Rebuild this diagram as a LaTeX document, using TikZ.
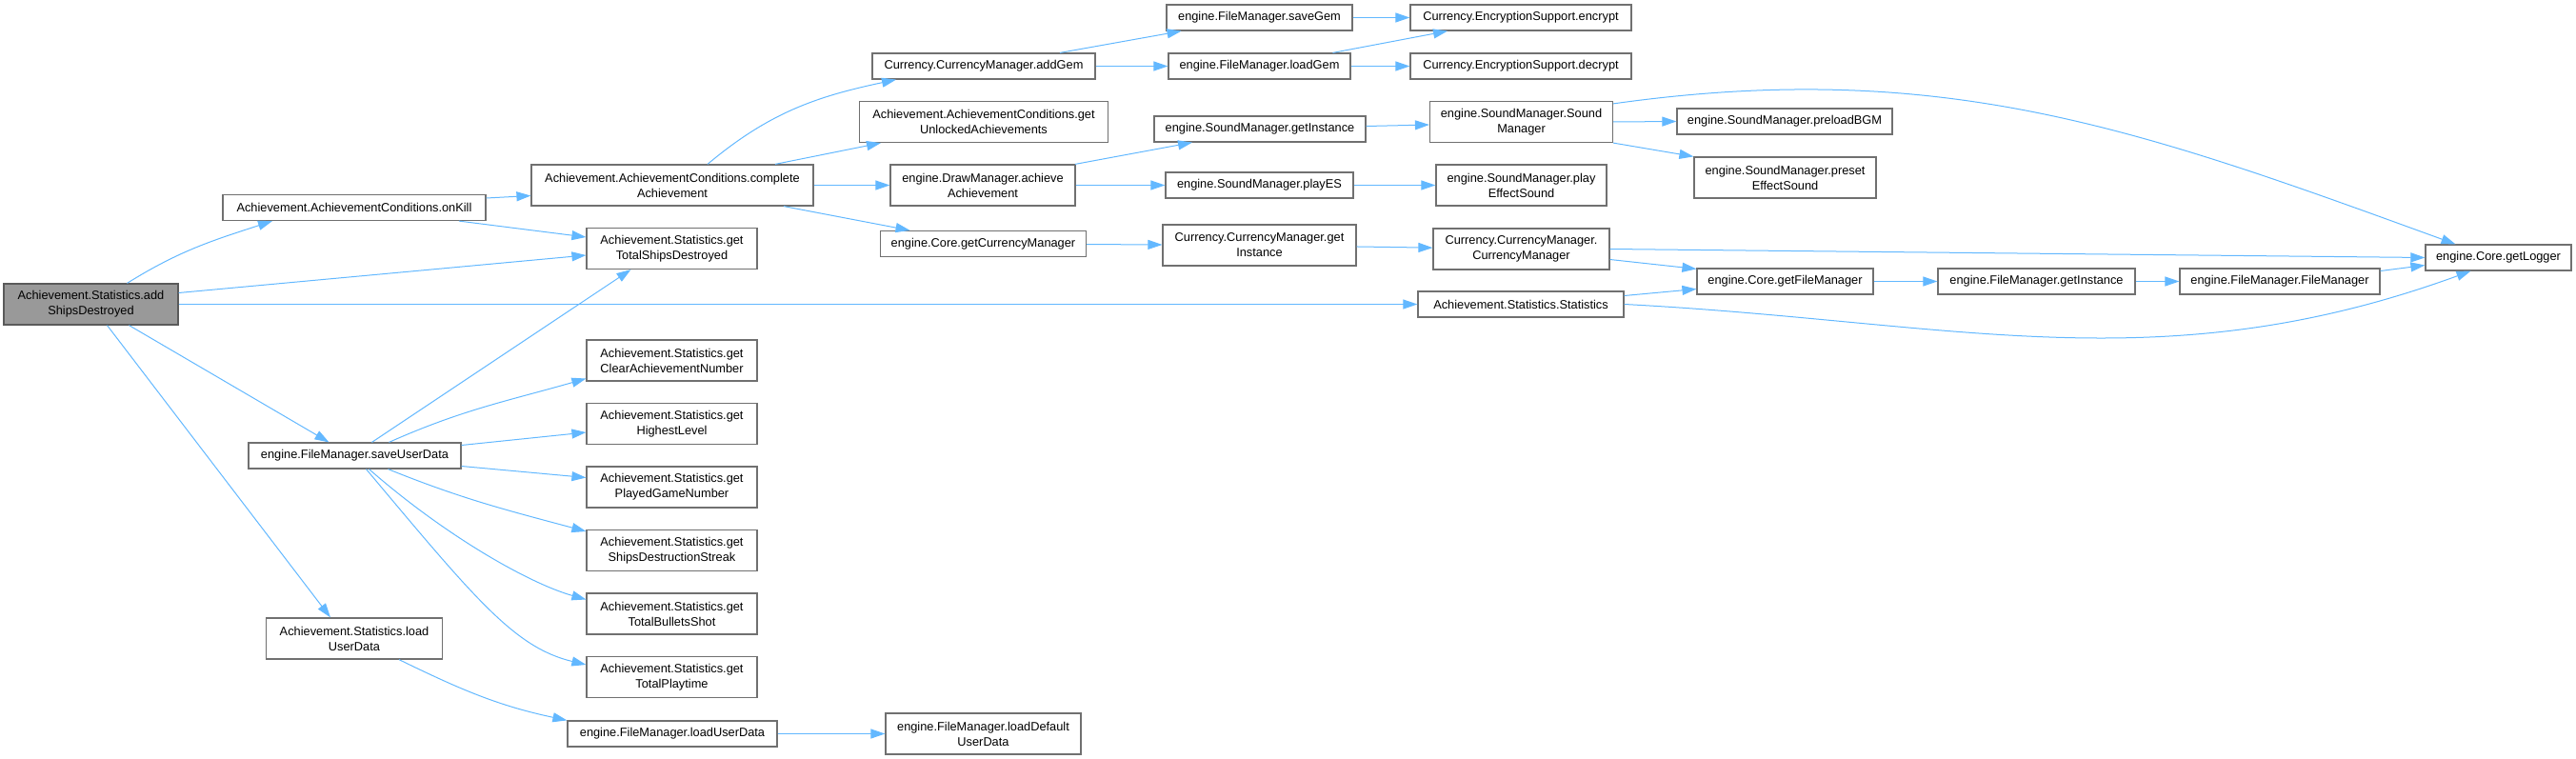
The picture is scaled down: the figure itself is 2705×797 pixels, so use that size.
\documentclass[tikz,border=0pt]{standalone}
\usepackage{fontspec}
\setmainfont{Liberation Sans}
\usetikzlibrary{arrows.meta}
\definecolor{callblue}{HTML}{63B8FF}
\definecolor{boxline}{HTML}{707070}
\definecolor{rootfill}{HTML}{999999}

\begin{document}
\begin{tikzpicture}[x=1pt,y=-1pt,
  every node/.style={font=\fontsize{12.8pt}{16pt}\selectfont},
  fn/.style={draw=boxline,line width=1.2pt,fill=white,align=center,
    inner xsep=2pt,inner ysep=0pt,minimum height=27pt,minimum width=#1},
  two/.style={minimum height=43pt},
  root/.style={fill=rootfill,draw=boxline!80!black},
  call/.style={draw=callblue,line width=1pt,-{Triangle[length=15pt,width=10pt]}}]
  \useasboundingbox (0,0) rectangle (2705,797);
  % first column
  \node[fn=183,two,root] (add) at (95.5,319.5){Achievement.Statistics.add\\ShipsDestroyed};
  % second column
  \node[fn=276] (onKill) at (372,218){Achievement.AchievementConditions.onKill};
  \node[fn=223] (saveUD) at (372.5,478.5){engine.FileManager.saveUserData};
  \node[fn=185,two] (loadSt) at (372,670.5){Achievement.Statistics.load\\UserData};
  % third column
  \node[fn=296,two] (complete) at (706,194.5){Achievement.AchievementConditions.complete\\Achievement};
  \node[fn=179,two] (totShips) at (705.5,261){Achievement.Statistics.get\\TotalShipsDestroyed};
  \foreach \n/\y/\t in {clrAch/378.5/ClearAchievementNumber, hiLvl/445/HighestLevel,
      played/511.5/PlayedGameNumber, streak/578/ShipsDestructionStreak,
      bullets/644.5/TotalBulletsShot, playtime/711/TotalPlaytime}{
    \node[fn=179,two] (\n) at (705.5,\y){Achievement.Statistics.get\\\t};
  }
  \node[fn=220] (loadFM) at (706,770.5){engine.FileManager.loadUserData};
  % fourth column
  \node[fn=234] (addGem) at (1033,69.5){Currency.CurrencyManager.addGem};
  \node[fn=261,two] (unlocked) at (1033,128){Achievement.AchievementConditions.get\\UnlockedAchievements};
  \node[fn=194,two] (achieve) at (1032,194.5){engine.DrawManager.achieve\\Achievement};
  \node[fn=216] (getCM) at (1032.5,256){engine.Core.getCurrencyManager};
  \node[fn=205,two] (loadDef) at (1032.5,770.5){engine.FileManager.loadDefault\\UserData};
  % fifth column
  \node[fn=195] (saveGem) at (1322.5,18.5){engine.FileManager.saveGem};
  \node[fn=191] (loadGem) at (1322.5,69.5){engine.FileManager.loadGem};
  \node[fn=222] (smInst) at (1323,135.5){engine.SoundManager.getInstance};
  \node[fn=197] (playES) at (1322.5,194.5){engine.SoundManager.playES};
  \node[fn=203,two] (cmInst) at (1322.5,257.5){Currency.CurrencyManager.get\\Instance};
  % sixth column
  \node[fn=232] (encrypt) at (1597,18.5){Currency.EncryptionSupport.encrypt};
  \node[fn=232] (decrypt) at (1597,69.5){Currency.EncryptionSupport.decrypt};
  \node[fn=192,two] (smCtor) at (1597.5,128){engine.SoundManager.Sound\\Manager};
  \node[fn=179,two] (playEff) at (1597.5,194.5){engine.SoundManager.play\\EffectSound};
  \node[fn=185,two] (cmCtor) at (1597.5,261.5){Currency.CurrencyManager.\\CurrencyManager};
  \node[fn=216] (statCtor) at (1597,319.5){Achievement.Statistics.Statistics};
  % seventh column and further right
  \node[fn=226] (preload) at (1874,127.5){engine.SoundManager.preloadBGM};
  \node[fn=191,two] (preset) at (1874.5,186.5){engine.SoundManager.preset\\EffectSound};
  \node[fn=185] (getFM) at (1874.5,295.5){engine.Core.getFileManager};
  \node[fn=207] (fmInst) at (2138.5,295.5){engine.FileManager.getInstance};
  \node[fn=210] (fmCtor) at (2394,295.5){engine.FileManager.FileManager};
  \node[fn=153] (logger) at (2623.5,270.5){engine.Core.getLogger};

  % calls out of addShipsDestroyed
  \draw[call] ([xshift=38pt]add.north) to[out=32,in=198] ([xshift=-86pt]onKill.south);
  \draw[call] ([yshift=12pt]add.east) -- ([yshift=-7pt]totShips.west);
  \draw[call] (add.east) -- (statCtor.west);
  \draw[call] ([xshift=40pt]add.south) -- ([xshift=-27pt]saveUD.north);
  \draw[call] ([xshift=17pt]add.south) -- ([xshift=-25pt]loadSt.north);
  % onKill and completeAchievement
  \draw[call] ([yshift=10pt]onKill.east) -- ([yshift=-11pt]complete.west);
  \draw[call] ([xshift=110pt]onKill.south) -- ([yshift=12pt]totShips.west);
  \draw[call] ([xshift=37pt]complete.north) to[out=40,in=192] ([xshift=-92pt]addGem.south);
  \draw[call] ([xshift=108pt]complete.north) -- ([xshift=-108pt]unlocked.south);
  \draw[call] (complete.east) -- (achieve.west);
  \draw[call] ([xshift=117pt]complete.south) -- ([xshift=-77pt]getCM.north);
  % gems
  \draw[call] ([xshift=80pt]addGem.north) -- ([xshift=-82pt]saveGem.south);
  \draw[call] (addGem.east) -- (loadGem.west);
  \draw[call] (saveGem.east) -- (encrypt.west);
  \draw[call] ([xshift=77pt]loadGem.north) -- ([xshift=-77pt]encrypt.south);
  \draw[call] (loadGem.east) -- (decrypt.west);
  % sound
  \draw[call] ([xshift=97pt]achieve.north) -- ([xshift=-71pt]smInst.south);
  \draw[call] (achieve.east) -- (playES.west);
  \draw[call] ([yshift=3pt]smInst.east) -- ([yshift=-3pt]smCtor.west);
  \draw[call] (smCtor.east) -- (preload.west);
  \draw[call] (smCtor.south east) -- (preset.north west);
  \draw[call] ([yshift=-3pt]smCtor.north east) to[out=8,in=160] ([xshift=-45pt]logger.north);
  \draw[call] (playES.east) -- (playEff.west);
  % currency and files
  \draw[call] (getCM) -- (cmInst);
  \draw[call] (cmInst) -- (cmCtor);
  \draw[call] (cmCtor.east) -- (logger.west);
  \draw[call] ([yshift=-11pt]cmCtor.east) -- ([yshift=-1pt]getFM.north west);
  \draw[call] ([yshift=9pt]statCtor.east) -- ([yshift=-8pt]getFM.west);
  \draw[call] (statCtor.east) to[out=-3,in=200] ([xshift=-29pt]logger.south);
  \draw[call] (getFM) -- (fmInst);
  \draw[call] (fmInst) -- (fmCtor);
  \draw[call] ([yshift=11pt]fmCtor.east) -- ([yshift=-8pt]logger.west);
  % saveUserData
  \draw[call] ([xshift=18pt]saveUD.north) -- ([xshift=-43pt]totShips.south);
  \draw[call] ([xshift=36pt]saveUD.north) to[out=24,in=196] ([yshift=-19pt]clrAch.west);
  \draw[call] ([yshift=11pt]saveUD.east) -- ([yshift=-9pt]hiLvl.west);
  \draw[call] ([yshift=-11pt]saveUD.east) -- ([yshift=10pt]played.west);
  \draw[call] ([xshift=35pt]saveUD.south) to[out=-22,in=165] ([yshift=20pt]streak.west);
  \draw[call] ([xshift=15pt]saveUD.south) .. controls +(80,70) and +(-60,-17) .. ([yshift=15pt]bullets.west);
  \draw[call] ([xshift=12pt]saveUD.south) .. controls +(115,137) and +(-75,-18) .. ([yshift=13pt]playtime.west);
  % loading
  \draw[call] ([xshift=47pt]loadSt.south) to[out=-26,in=168] (loadFM.north west);
  \draw[call] (loadFM.east) -- (loadDef.west);
\end{tikzpicture}
\end{document}
